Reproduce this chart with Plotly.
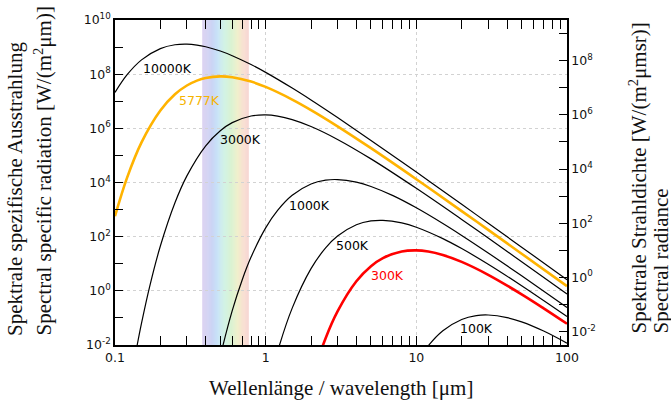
import plotly.graph_objects as go
import numpy as np

# ---------------- data (log10 of W/(m^2 um)) ----------------
wl_10000 = [0.1, 0.12, 0.15, 0.2, 0.25, 0.3, 0.35, 0.4, 0.5, 0.6, 0.8, 1, 1.5, 2, 3, 5, 10, 20, 30, 50, 100]
lg_10000 = [7.325, 7.970, 8.527, 8.944, 9.085, 9.108, 9.075, 9.013, 8.854, 8.682, 8.355, 8.066, 7.486, 7.046,
            6.398, 5.555, 4.384, 3.195, 2.496, 1.613, 0.412]

wl_5777 = [0.1, 0.12, 0.15, 0.2, 0.25, 0.3, 0.35, 0.4, 0.5, 0.6, 0.8, 1, 1.5, 2, 3, 5, 10, 20, 30, 50, 100]
lg_5777 = [2.757, 4.163, 5.482, 6.660, 7.257, 7.582, 7.763, 7.860, 7.918, 7.887, 7.725, 7.529, 7.063, 6.675,
           6.076, 5.268, 4.122, 2.945, 2.250, 1.370, 0.175]

wl_3000 = [0.13, 0.14, 0.15, 0.17, 0.2, 0.25, 0.3, 0.4, 0.5, 0.6, 0.8, 1, 1.2, 1.5, 2, 3, 5, 10, 20, 30, 50, 100]
lg_3000 = [-3.018, -2.035, -1.193, 0.168, 1.654, 3.252, 4.245, 5.356, 5.912, 6.211, 6.455, 6.494, 6.450, 6.322,
           6.068, 5.591, 4.872, 3.784, 2.635, 1.949, 1.075, -0.118]

wl_1000 = [0.45, 0.5, 0.6, 0.7, 0.8, 1, 1.2, 1.5, 2, 2.5, 3, 4, 5, 7, 10, 15, 20, 30, 50, 100]
lg_1000 = [-3.579, -2.419, -0.732, 0.421, 1.247, 2.325, 2.970, 3.527, 3.944, 4.085, 4.108, 4.013, 3.854, 3.515,
           3.066, 2.486, 2.046, 1.398, 0.555, -0.617]

wl_500 = [0.9, 1, 1.2, 1.5, 2, 2.5, 3, 4, 5, 6, 8, 10, 15, 20, 30, 50, 100]
lg_500 = [-5.084, -3.924, -2.237, -0.639, 0.819, 1.585, 2.022, 2.439, 2.580, 2.603, 2.508, 2.349, 1.928, 1.561,
          0.981, 0.187, -0.950]

wl_300 = [1.8, 2, 2.5, 3, 4, 5, 6, 8, 10, 12, 15, 20, 30, 50, 70, 100]
lg_300 = [-4.275, -3.347, -1.748, -0.756, 0.356, 0.912, 1.211, 1.455, 1.494, 1.450, 1.322, 1.068, 0.591,
          -0.129, -0.646, -1.216]

wl_100 = [8, 10, 12, 15, 20, 25, 30, 40, 50, 70, 100]
lg_100 = [-3.753, -2.676, -2.030, -1.473, -1.056, -0.915, -0.892, -0.987, -1.146, -1.486, -1.934]

curve_names = ["10000K", "3000K", "1000K", "500K", "100K", "5777K", "300K"]

visible_band = [0.38, 0.77]  # um

x_tick_vals = [0.1, 1, 10, 100]
x_tick_text = ["0.1", "1", "10", "100"]
y_tick_exps = [-2, 0, 2, 4, 6, 8, 10]
y2_tick_exps = [-2, 0, 2, 4, 6, 8]

# ---------------- figure ----------------
fig = go.Figure()

# visible spectrum band (pale rainbow strips)
anchors = [(0.0, (212, 202, 238)), (0.18, (204, 210, 244)), (0.33, (198, 226, 248)),
           (0.48, (200, 240, 224)), (0.62, (210, 240, 202)), (0.76, (240, 240, 204)),
           (0.88, (248, 224, 208)), (1.0, (246, 206, 204))]
def band_color(t):
    for (t0, c0), (t1, c1) in zip(anchors[:-1], anchors[1:]):
        if t0 <= t <= t1:
            f = (t - t0) / (t1 - t0)
            return "rgb(%d,%d,%d)" % tuple(round(a + (b - a) * f) for a, b in zip(c0, c1))
    return "rgb(%d,%d,%d)" % anchors[-1][1]

n_strips = 48
lo, hi = np.log10(visible_band[0]), np.log10(visible_band[1])
for i in range(n_strips):
    a = lo + (hi - lo) * i / n_strips
    b = lo + (hi - lo) * (i + 1) / n_strips + 0.001
    fig.add_shape(type="rect", xref="x", yref="paper", x0=10 ** a, x1=10 ** b, y0=0, y1=1,
                  fillcolor=band_color((i + 0.5) / n_strips), line_width=0, layer="below")

black_series = [(wl_10000, lg_10000), (wl_3000, lg_3000), (wl_1000, lg_1000), (wl_500, lg_500), (wl_100, lg_100)]
for wl, lg in black_series:
    fig.add_trace(go.Scatter(x=wl, y=[10 ** v for v in lg], mode="lines", line=dict(color="black", width=1.2, shape="spline"),
                             showlegend=False, hoverinfo="skip"))
fig.add_trace(go.Scatter(x=wl_5777, y=[10 ** v for v in lg_5777], mode="lines",
                         line=dict(color="#FFB300", width=2.6, shape="spline"), showlegend=False, hoverinfo="skip"))
fig.add_trace(go.Scatter(x=wl_300, y=[10 ** v for v in lg_300], mode="lines",
                         line=dict(color="#FF0000", width=2.6, shape="spline"), showlegend=False, hoverinfo="skip"))
# invisible trace to attach the right axis
fig.add_trace(go.Scatter(x=[1], y=[1], yaxis="y2", mode="markers", marker=dict(opacity=0), showlegend=False, hoverinfo="skip"))

# curve labels (log coordinates)
label_pos = {"10000K": (-0.652, 8.22, "black"), "5777K": (-0.441, 7.01, "#F5B400"), "3000K": (-0.166, 5.60, "black"),
             "1000K": (0.292, 3.14, "black"), "500K": (0.579, 1.69, "black"), "300K": (0.806, 0.57, "#FF0000"),
             "100K": (1.40, -1.38, "black")}
for name in curve_names:
    lx, ly, col = label_pos[name]
    fig.add_annotation(x=lx, y=ly, xref="x", yref="y", text=name, showarrow=False,
                       font=dict(family="DejaVu Sans", size=12.5, color=col))

sans = dict(family="DejaVu Sans", size=12.5, color="#111")
serif = "Liberation Serif"

def sup(e):
    return "10<sup>%s</sup>" % str(e)

minor_x = [m * 10 ** k for k in (-1, 0, 1) for m in range(2, 10)]

fig.update_layout(
    width=671, height=401,
    margin=dict(l=115, r=104, t=20, b=56),
    paper_bgcolor="white", plot_bgcolor="white",
    xaxis=dict(type="log", range=[-1, 2], tickmode="array", tickvals=x_tick_vals, ticktext=x_tick_text,
               ticks="inside", ticklen=9, tickwidth=1.3, tickcolor="black",
               showline=True, linecolor="black", linewidth=1.5, mirror="allticks",
               showgrid=True, gridcolor="#d2d2d2", griddash="dot", gridwidth=1,
               minor=dict(tickmode="array", tickvals=minor_x, ticks="inside", ticklen=5, tickwidth=1.3,
                          tickcolor="black", showgrid=False),
               tickfont=sans, zeroline=False),
    yaxis=dict(type="log", range=[-2, 10], tickmode="array", tickvals=[10 ** e for e in y_tick_exps],
               ticktext=[sup(e) for e in y_tick_exps],
               ticks="inside", ticklen=8, tickwidth=1.3, tickcolor="black",
               showline=True, linecolor="black", linewidth=1.5, mirror=False,
               showgrid=True, gridcolor="#d2d2d2", griddash="dot", gridwidth=1,
               minor=dict(tickmode="array", tickvals=[10 ** e for e in range(-2, 11)], ticks="inside", ticklen=8,
                          tickwidth=1.3, tickcolor="black", showgrid=False),
               tickfont=sans, zeroline=False),
    yaxis2=dict(type="log", overlaying="y", side="right",
                range=[-2 - np.log10(np.pi), 10 - np.log10(np.pi)], tickmode="array",
                tickvals=[10 ** e for e in y2_tick_exps], ticktext=[sup(e) for e in y2_tick_exps],
                ticks="inside", ticklen=8, tickwidth=1.3, tickcolor="black",
                showline=True, linecolor="black", linewidth=1.5, showgrid=False,
                minor=dict(tickmode="array", tickvals=[10 ** e for e in range(-2, 10)], ticks="inside", ticklen=8,
                           tickwidth=1.3, tickcolor="black", showgrid=False),
                tickfont=sans, zeroline=False),
)

# axis titles
tfont = dict(family=serif, size=21, color="#111")
fig.add_annotation(text="Wellenlänge / wavelength [μm]", xref="paper", yref="paper", x=0.5, y=0,
                   yshift=-43, xanchor="center", yanchor="middle", showarrow=False, font=tfont)
fig.add_annotation(text="Spektrale spezifische Ausstrahlung", xref="paper", yref="paper", x=0, y=0,
                   xshift=-100, yshift=7, xanchor="center", yanchor="bottom", textangle=-90, showarrow=False, font=tfont)
fig.add_annotation(text="Spectral specific radiation [W/(m<sup>2</sup>μm)]", xref="paper", yref="paper", x=0, y=0,
                   xshift=-72, yshift=7, xanchor="center", yanchor="bottom", textangle=-90, showarrow=False, font=tfont)
fig.add_annotation(text="Spektrale Strahldichte [W/(m<sup>2</sup>μmsr)]", xref="paper", yref="paper", x=1, y=0,
                   xshift=71, yshift=9, xanchor="center", yanchor="bottom", textangle=-90, showarrow=False, font=tfont)
fig.add_annotation(text="Spectral radiance", xref="paper", yref="paper", x=1, y=0,
                   xshift=93, yshift=9, xanchor="center", yanchor="bottom", textangle=-90, showarrow=False, font=tfont)

# remove the default page margin so the 671x401 figure fills the window exactly; hide the mode bar
fig.write_html("out.html", config={"displayModeBar": False},
               post_script="document.body.style.margin='0';document.body.style.overflow='hidden';")
